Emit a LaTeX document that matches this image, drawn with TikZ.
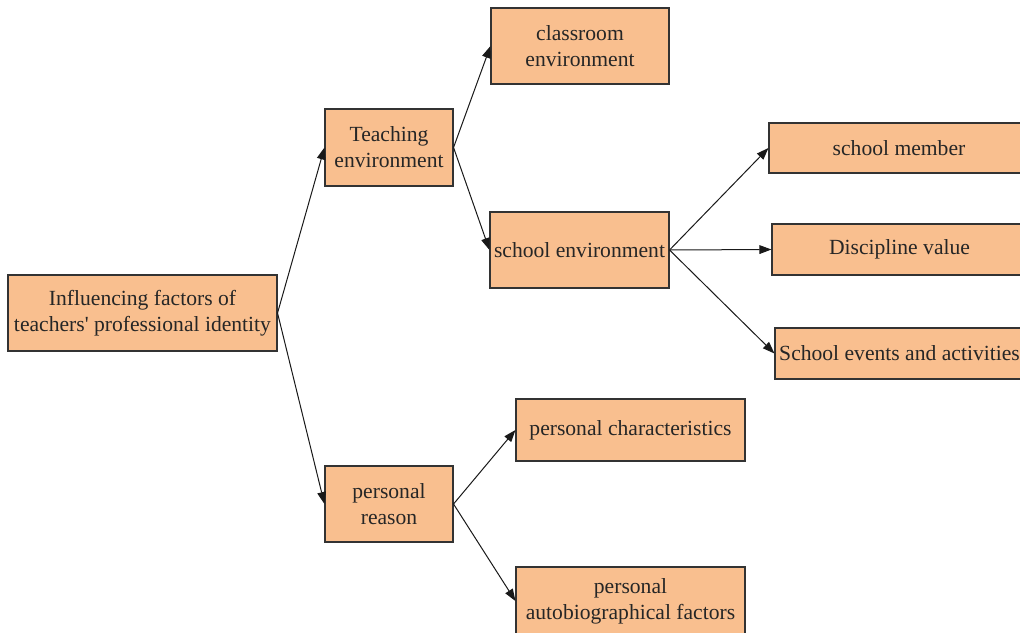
\documentclass[tikz,border=0pt]{standalone}
\usepackage{fontspec}
\setmainfont{Liberation Serif}
\usetikzlibrary{arrows.meta}
\definecolor{boxfill}{HTML}{F9BF8F}
\definecolor{boxline}{HTML}{333333}
\tikzset{
  box/.style={draw=boxline, fill=boxfill, line width=0.8pt, inner sep=2pt, align=center,
    text=black!85, font=\fontsize{16.2}{19.5}\selectfont},
  conn/.style={draw=black!90, line width=0.75pt, -{Triangle[length=9pt,width=6.5pt]}}
}
\begin{document}
\begin{tikzpicture}[x=0.75pt,y=-0.75pt]
\path[use as bounding box] (0,0) rectangle (1020,632);
\clip (0,0) rectangle (1020,632);
\node[box, minimum width=201.75pt, minimum height=57pt] (root) at (142.5,313) {Influencing factors of\\teachers\textquotesingle{} professional identity};
\node[box, minimum width=96pt, minimum height=57.75pt] (teach) at (389,147.5) {Teaching\\environment};
\node[box, minimum width=96pt, minimum height=57pt] (pers) at (389,504) {personal\\reason};
\node[box, minimum width=133.5pt, minimum height=57pt] (class) at (580,46) {classroom\\environment};
\node[box, minimum width=134.25pt, minimum height=57pt] (senv) at (579.5,250) {school environment};
\node[box, minimum width=195pt, minimum height=37.5pt] (member) at (899,148) {school member};
\node[box, minimum width=191.25pt, minimum height=38.25pt] (disc) at (899.5,249.5) {Discipline value};
\node[box, minimum width=186.75pt, minimum height=38.25pt] (events) at (899.5,353.5) {School events and activities};
\node[box, minimum width=171.75pt, minimum height=46.5pt] (pchar) at (630.5,430) {personal characteristics};
\node[box, minimum width=171.75pt, minimum height=51pt] (auto) at (630.5,601) {personal\\autobiographical factors};
\draw[conn] (root.east) -- (teach.west);
\draw[conn] (root.east) -- (pers.west);
\draw[conn] (teach.east) -- (class.west);
\draw[conn] (teach.east) -- (senv.west);
\draw[conn] (senv.east) -- (member.west);
\draw[conn] (senv.east) -- (disc.west);
\draw[conn] (senv.east) -- (events.west);
\draw[conn] (pers.east) -- (pchar.west);
\draw[conn] (pers.east) -- (auto.west);
\end{tikzpicture}
\end{document}
